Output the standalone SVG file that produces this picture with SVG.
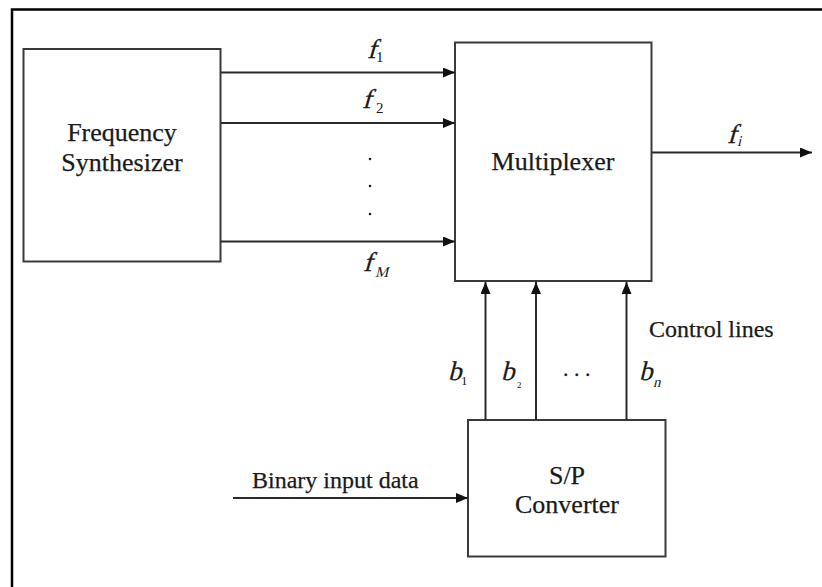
<svg xmlns="http://www.w3.org/2000/svg" width="822" height="587" viewBox="0 0 822 587">
<style>
.box{fill:#fff;stroke:#3a3a3a;stroke-width:2}
.ln{stroke:#2a2a2a;stroke-width:2;fill:none}
.t{font-family:"Liberation Serif","Times New Roman",serif;font-size:26px;fill:#1a1a1a;stroke:#1a1a1a;stroke-width:0.25}
.m{font-family:"Liberation Serif","Times New Roman",serif;font-size:27px;fill:#1a1a1a;stroke:#1a1a1a;stroke-width:0.25}
.d{font-family:"Liberation Serif","Times New Roman",serif;font-size:15px;fill:#1a1a1a}
</style>
<defs>
<marker id="ah" viewBox="0 0 12 10" refX="12" refY="5" markerWidth="12" markerHeight="10" markerUnits="userSpaceOnUse" orient="auto">
<path d="M0,0 L12,5 L0,10 Z" fill="#111"/>
</marker>
</defs>
<rect width="822" height="587" fill="#fff"/>
<g id="frame"><path d="M12,587 V9.5 H822" fill="none" stroke="#000" stroke-width="2.5"/></g>
<g id="freq-synth">
<rect class="box" x="23.5" y="49" width="197" height="212.5"/>
<text class="t" x="122" y="141" text-anchor="middle">Frequency</text>
<text class="t" x="122" y="171" text-anchor="middle">Synthesizer</text>
</g>
<g id="multiplexer">
<rect class="box" x="455" y="42.5" width="196.5" height="238.5"/>
<text class="t" x="553" y="170" text-anchor="middle">Multiplexer</text>
</g>
<g id="sp-converter">
<rect class="box" x="468" y="420" width="197.5" height="136.5"/>
<text class="t" x="567" y="484" text-anchor="middle">S/P</text>
<text class="t" x="567" y="513" text-anchor="middle">Converter</text>
</g>
<g id="connectors">
<line class="ln" x1="221" y1="72.5" x2="455" y2="72.5" marker-end="url(#ah)"/>
<line class="ln" x1="221" y1="123" x2="455" y2="123" marker-end="url(#ah)"/>
<line class="ln" x1="221" y1="241.5" x2="455" y2="241.5" marker-end="url(#ah)"/>
<line class="ln" x1="652" y1="152.5" x2="812" y2="152.5" marker-end="url(#ah)"/>
<line class="ln" x1="485.5" y1="420" x2="485.5" y2="282" marker-end="url(#ah)"/>
<line class="ln" x1="536" y1="420" x2="536" y2="282" marker-end="url(#ah)"/>
<line class="ln" x1="626.5" y1="420" x2="626.5" y2="282" marker-end="url(#ah)"/>
<line class="ln" x1="233" y1="498" x2="468" y2="498" marker-end="url(#ah)"/>
</g>
<g id="labels">
<text class="m" transform="translate(367,58) skewX(-16)">f</text><text class="d" x="376" y="62">1</text>
<text class="m" transform="translate(362,108) skewX(-16)">f</text><text class="d" x="376" y="113">2</text>
<circle cx="370" cy="159" r="1.3" fill="#222"/>
<circle cx="370" cy="186" r="1.3" fill="#222"/>
<circle cx="370" cy="214" r="1.3" fill="#222"/>
<text class="m" transform="translate(363,271) skewX(-16)">f</text><text class="d" transform="translate(375,277) skewX(-14)">M</text>
<text class="m" transform="translate(727,143) skewX(-16)">f</text><text class="d" transform="translate(737,146) skewX(-14)">i</text>
<text class="t" x="649" y="337" style="font-size:24px">Control lines</text>
<text class="m" transform="translate(448,380) skewX(-14)">b</text><text class="d" x="461" y="385" style="font-size:13px">1</text>
<text class="m" transform="translate(501,380) skewX(-14)">b</text><text class="d" x="517" y="388" style="font-size:9px">2</text>
<text class="t" x="563" y="376" style="font-size:22px">. . .</text>
<text class="m" transform="translate(639,380) skewX(-14)">b</text><text class="d" transform="translate(653,387) skewX(-14)">n</text>
<text class="t" x="252" y="488" style="font-size:24px">Binary input data</text>
</g>
</svg>
